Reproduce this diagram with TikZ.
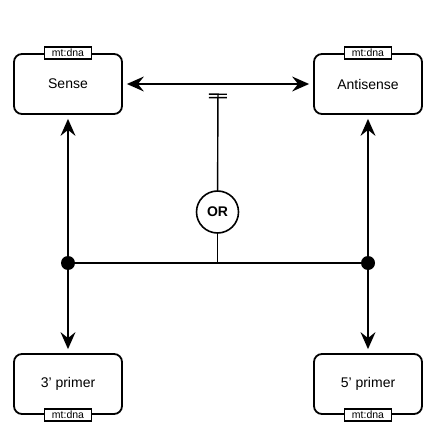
\documentclass[tikz,border=0pt]{standalone}
\usepackage{fontspec}
\setmainfont{Liberation Sans}
\usepackage{tikz}
\usetikzlibrary{arrows.meta, positioning, calc}

\begin{document}
\begin{tikzpicture}[x=1pt, y=-1pt,
  box/.style={draw, line width=1.8pt, rounded corners=8pt, minimum width=108pt, minimum height=60pt, font=\fontsize{14}{16}\selectfont},
  tag/.style={draw, line width=1.6pt, fill=white, minimum width=47pt, minimum height=12pt, inner sep=0pt, font=\fontsize{10.5}{12}\selectfont},
  dot/.style={circle, fill=black, minimum size=14pt, inner sep=0pt},
  arr/.style={line width=1.4pt, -{Stealth[length=17pt, width=15pt, inset=6pt]}}]
  \useasboundingbox (0,0) rectangle (440,443);

  % Strands
  \node[box] (sense) at (68, 84) {Sense};
  \node[tag] (sensetag) at (sense.north) {mt:dna};
  \node[box] (antisense) at (368, 84) {Antisense};
  \node[tag] (antisensetag) at (antisense.north) {mt:dna};

  % Primers
  \node[box] (prime3) at (68, 384) {3' primer};
  \node[tag] (prime3tag) at (prime3.south) {mt:dna};
  \node[box] (prime5) at (368, 384) {5' primer};
  \node[tag] (prime5tag) at (prime5.south) {mt:dna};

  % Choice
  \node[draw, circle, line width=1.6pt, minimum size=42pt, inner sep=0pt, font=\fontsize{14}{16}\selectfont\bfseries] (or) at (217.5, 212) {OR};

  % Junctions
  \node[dot] (dl) at (68, 263) {};
  \node[dot] (dr) at (368, 263) {};
  \coordinate (mid) at ($(sense.east)!.5!(antisense.west)$);
  \coordinate (join) at (or |- dl);

  % Connectors
  \draw[arr, {Stealth[length=17pt, width=15pt, inset=6pt]}-{Stealth[length=17pt, width=15pt, inset=6pt]}, shorten <=4pt, shorten >=4pt] (sense) -- (antisense);
  \draw[line width=1.4pt, shorten >=9.5pt, -{Bar[width=18pt, sep=2pt] Bar[width=18pt]}] (or) -- (mid);
  \draw[line width=1.4pt] (or) -- (join);
  \draw[line width=1.4pt] (dl) -- (dr);
  \draw[arr, shorten >=4pt] (dl) -- (sense);
  \draw[arr, shorten >=4pt] (dl) -- (prime3);
  \draw[arr, shorten >=4pt] (dr) -- (antisense);
  \draw[arr, shorten >=4pt] (dr) -- (prime5);
\end{tikzpicture}
\end{document}
